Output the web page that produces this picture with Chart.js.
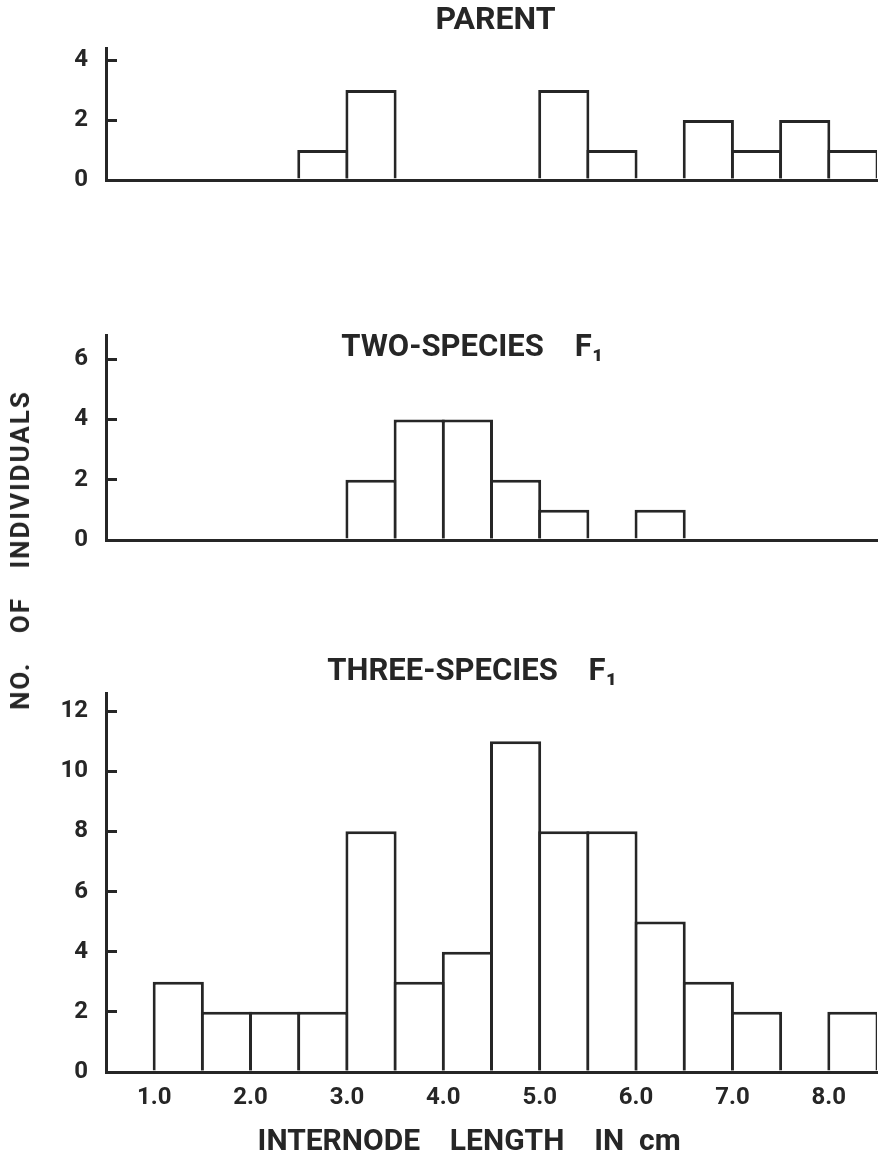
<!DOCTYPE html>
<html>
<head>
<meta charset="utf-8">
<script src="https://cdn.jsdelivr.net/npm/chart.js@4.4.1/dist/chart.umd.min.js"></script>
<style>
  html, body { margin: 0; padding: 0; background: #ffffff; }
  #wrap { position: relative; width: 883px; height: 1159px; overflow: hidden; background: #ffffff; }
  canvas { position: absolute; left: 0; }
  #ytitle {
    position: absolute; left: 20px; top: 550px;
    transform: translate(-50%, -50%) rotate(-90deg);
    font-family: Roboto, sans-serif; font-weight: bold; font-size: 26px;
    letter-spacing: 2px; word-spacing: 20px;
    color: #262626; white-space: pre; line-height: 1;
  }
</style>
</head>
<body>
<div id="wrap">
  <canvas id="cParent" width="883" height="200" style="top:0px"></canvas>
  <canvas id="cTwo" width="883" height="260" style="top:300px"></canvas>
  <canvas id="cThree" width="883" height="539" style="top:620px"></canvas>
  <div id="ytitle">NO. OF INDIVIDUALS</div>
</div>
<script>
// ---------------- data ----------------
const binStarts = [0.5, 1.0, 1.5, 2.0, 2.5, 3.0, 3.5, 4.0, 4.5, 5.0, 5.5, 6.0, 6.5, 7.0, 7.5, 8.0];
const binWidth = 0.5;
const parentCounts       = [0, 0, 0, 0, 1, 3, 0, 0, 0, 3, 1, 0, 2, 1, 2, 1];
const twoSpeciesCounts   = [0, 0, 0, 0, 0, 2, 4, 4, 2, 1, 0, 1, 0, 0, 0, 0];
const threeSpeciesCounts = [0, 3, 2, 2, 2, 8, 3, 4, 11, 8, 8, 5, 3, 2, 0, 2];
const xRange = [0.5, 8.5];
const xTickValues = [1, 2, 3, 4, 5, 6, 7, 8];
const xTickLabels = ['1.0', '2.0', '3.0', '4.0', '5.0', '6.0', '7.0', '8.0'];
const parentYTicks = [0, 2, 4];
const twoSpeciesYTicks = [0, 2, 4, 6];
const threeSpeciesYTicks = [0, 2, 4, 6, 8, 10, 12];
const parentYMax = 4.4;
const twoSpeciesYMax = 6.8;
const threeSpeciesYMax = 12.6;
const panelTitles = [' PARENT', 'TWO-SPECIES    F\u2081     ', 'THREE-SPECIES    F\u2081     '];
const xAxisTitle = 'INTERNODE    LENGTH    IN  cm      ';

// ---------------- style ----------------
const FONT = 'Roboto';
const INK = '#262626';

function histogram(id, counts, yMax, yTicks, cfg) {
  const canvas = document.getElementById(id);
  const H = canvas.height;
  return new Chart(canvas, {
    type: 'bar',
    data: {
      datasets: [{
        data: binStarts.map((s, i) => ({ x: s + binWidth / 2, y: counts[i] })),
        backgroundColor: '#ffffff',
        borderColor: INK,
        borderWidth: 3,
        barPercentage: 1.062,
        categoryPercentage: 1,
        inflateAmount: 0
      }]
    },
    options: {
      responsive: false,
      animation: false,
      devicePixelRatio: 1,
      layout: { padding: { left: 0, right: 6, top: 0, bottom: 0 } },
      plugins: {
        legend: { display: false },
        tooltip: { enabled: false },
        title: {
          display: true,
          text: cfg.title,
          fullSize: false,
          color: INK,
          font: { family: FONT, weight: 'bold', size: cfg.titleSize, lineHeight: 1 },
          padding: { top: cfg.titleTop, bottom: cfg.titleBottom }
        }
      },
      scales: {
        x: {
          type: 'linear',
          min: xRange[0],
          max: xRange[1],
          offset: false,
          z: 1,
          afterBuildTicks: s => { s.ticks = xTickValues.map(v => ({ value: v })); },
          afterFit: s => {
            s.height = H - cfg.areaBottom;
            s.paddingLeft = 0; s.paddingRight = 0; s.paddingTop = 0; s.paddingBottom = 0;
          },
          grid: { display: false, offset: false, drawTicks: false, tickLength: 0 },
          border: { display: true, color: INK, width: 3 },
          ticks: {
            display: cfg.showX,
            padding: 12,
            maxRotation: 0,
            autoSkip: false,
            color: INK,
            font: { family: FONT, weight: 'bold', size: 24 },
            callback: v => xTickLabels[xTickValues.indexOf(v)]
          },
          title: {
            display: !!cfg.xTitle,
            text: cfg.xTitle || '',
            color: INK,
            font: { family: FONT, weight: 'bold', size: 30, lineHeight: 1 },
            padding: { top: 0, bottom: 2 }
          }
        },
        y: {
          type: 'linear',
          min: 0,
          max: yMax,
          z: 1,
          afterBuildTicks: s => { s.ticks = yTicks.map(v => ({ value: v })); },
          afterFit: s => {
            s.width = 106;
            s.paddingLeft = 0; s.paddingRight = 0; s.paddingTop = 0; s.paddingBottom = 0;
          },
          grid: { display: true, drawOnChartArea: false, drawTicks: true, tickLength: -11, lineWidth: 3, color: INK },
          border: { display: true, color: INK, width: 3 },
          ticks: {
            padding: 29,
            color: INK,
            font: { family: FONT, weight: 'bold', size: 24 }
          }
        }
      }
    }
  });
}

function draw() {
  histogram('cParent', parentCounts, parentYMax, parentYTicks,
    { title: panelTitles[0], titleSize: 32, titleTop: 5, titleBottom: 11, areaBottom: 180, showX: false });
  histogram('cTwo', twoSpeciesCounts, twoSpeciesYMax, twoSpeciesYTicks,
    { title: panelTitles[1], titleSize: 31, titleTop: 33, titleBottom: -29, areaBottom: 240, showX: false });
  histogram('cThree', threeSpeciesCounts, threeSpeciesYMax, threeSpeciesYTicks,
    { title: panelTitles[2], titleSize: 31, titleTop: 37, titleBottom: 5, areaBottom: 452, showX: true, xTitle: xAxisTitle });
}

if (document.fonts && document.fonts.load) {
  Promise.all([
    document.fonts.load('bold 24px Roboto'),
    document.fonts.load('bold 31px Roboto')
  ]).then(draw, draw);
} else {
  draw();
}
</script>
</body>
</html>
